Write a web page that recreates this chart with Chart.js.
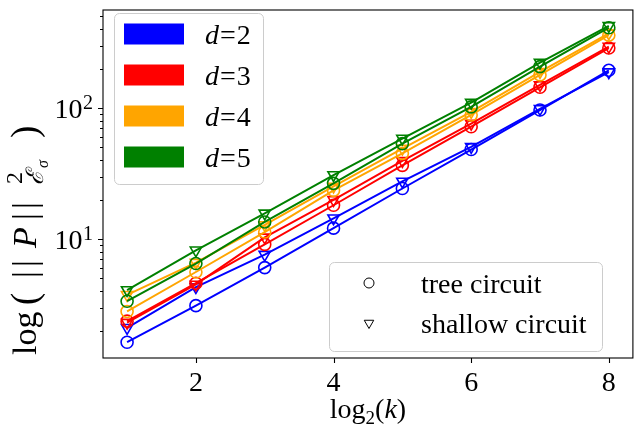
<!DOCTYPE html>
<html>
<head>
<meta charset="utf-8">
<script src="https://cdn.jsdelivr.net/npm/chart.js@4.4.1/dist/chart.umd.min.js"></script>
<style>
  html, body { margin: 0; padding: 0; background: #fff; }
</style>
</head>
<body>
<canvas id="chart" width="641" height="431"></canvas>
<script>
// x = log2(k)
const xValues = [1, 2, 3, 4, 5, 6, 7, 8];
const xTicks = [2, 4, 6, 8];
const yMajorTicks = [10, 100];
const yMajorExponents = ['1', '2'];
const yMinorTicks = [2, 3, 4, 5, 6, 7, 8, 9, 20, 30, 40, 50, 60, 70, 80, 90, 200, 300, 400, 500];

const dValues = [2, 3, 4, 5];
const dColors = ['#0000ff', '#ff0000', '#ffa500', '#008000'];

// tree circuit (circles)
const treeD2 = [1.63, 3.1, 6.05, 12.1, 24.3, 48.2, 96.5, 194];
const treeD3 = [2.36, 4.6, 9.1, 18.1, 36.5, 72, 144, 287];
const treeD4 = [2.8, 5.6, 11.3, 23.5, 45, 88.5, 179, 360];
const treeD5 = [3.35, 6.5, 13.5, 26.6, 53.5, 102, 207, 410];
// shallow circuit (triangles)
const shallowD2 = [2.1, 4.3, 7.6, 14.4, 27.5, 50.5, 98.5, 188];
const shallowD3 = [2.3, 4.5, 10.3, 19.9, 39.5, 76, 150, 294];
const shallowD4 = [3.75, 6.6, 12.8, 25.2, 49, 93.5, 189, 372];
const shallowD5 = [4.08, 8.2, 15.7, 30.8, 58.5, 110, 222, 424];

const treeSeries = [treeD2, treeD3, treeD4, treeD5];
const shallowSeries = [shallowD2, shallowD3, shallowD4, shallowD5];

const serif = '"Liberation Serif", "Times New Roman", serif';

function toPoints(arr) {
    return xValues.map((x, i) => ({x: x, y: arr[i]}));
}

let datasets = [];
dValues.forEach((d, i) => {
    datasets.push({
        label: 'tree d=' + d,
        data: toPoints(treeSeries[i]),
        borderColor: dColors[i],
        borderWidth: 2,
        pointStyle: 'circle',
        pointRadius: 6,
        pointBorderWidth: 1.6,
        pointBackgroundColor: 'rgba(0,0,0,0)',
        pointBorderColor: dColors[i],
        tension: 0,
        fill: false,
        order: 10 - 2 * i
    });
    datasets.push({
        label: 'shallow d=' + d,
        data: toPoints(shallowSeries[i]),
        borderColor: dColors[i],
        borderWidth: 2,
        pointStyle: 'triangle',
        pointRotation: 180,
        pointRadius: 6.5,
        pointBorderWidth: 1.6,
        pointBackgroundColor: 'rgba(0,0,0,0)',
        pointBorderColor: dColors[i],
        tension: 0,
        fill: false,
        order: 9 - 2 * i
    });
});

function drawRuns(ctx, runs, x0, y0) {
    let x = x0;
    runs.forEach(r => {
        ctx.font = r.font;
        ctx.fillText(r.t, x, y0 + (r.dy || 0));
        x += ctx.measureText(r.t).width + (r.gap || 0);
    });
    return x - x0;
}

function measureRuns(ctx, runs) {
    let w = 0;
    runs.forEach(r => {
        ctx.font = r.font;
        w += ctx.measureText(r.t).width + (r.gap || 0);
    });
    return w;
}

const decor = {
    id: 'decor',
    afterDraw(chart) {
        const ctx = chart.ctx;
        const a = chart.chartArea;
        const xs = chart.scales.x;
        const ys = chart.scales.y;
        ctx.save();
        ctx.strokeStyle = '#000';
        ctx.lineWidth = 1.1;
        ctx.strokeRect(a.left, a.top, a.right - a.left, a.bottom - a.top);

        // tick marks, outward
        ctx.beginPath();
        xTicks.forEach(v => {
            const px = Math.round(xs.getPixelForValue(v)) + 0.5;
            ctx.moveTo(px, a.bottom);
            ctx.lineTo(px, a.bottom + 5);
        });
        yMajorTicks.forEach(v => {
            const py = Math.round(ys.getPixelForValue(v)) + 0.5;
            ctx.moveTo(a.left - 5, py);
            ctx.lineTo(a.left, py);
        });
        yMinorTicks.forEach(v => {
            const py = Math.round(ys.getPixelForValue(v)) + 0.5;
            ctx.moveTo(a.left - 3, py);
            ctx.lineTo(a.left, py);
        });
        ctx.stroke();

        // y tick labels 10^n
        ctx.fillStyle = '#000';
        ctx.textAlign = 'left';
        ctx.textBaseline = 'alphabetic';
        yMajorTicks.forEach((v, i) => {
            const py = ys.getPixelForValue(v);
            const runs = [
                {t: '10', font: '28px ' + serif, gap: 0.5},
                {t: yMajorExponents[i], font: '20px ' + serif, dy: -9}
            ];
            const w = measureRuns(ctx, runs);
            drawRuns(ctx, runs, a.left - 10 - w, py + 9.5);
        });

        // legend for d
        ctx.fillStyle = 'rgba(255,255,255,0.8)';
        ctx.strokeStyle = '#cccccc';
        ctx.lineWidth = 1;
        ctx.beginPath();
        ctx.roundRect(114.5, 13.5, 149, 171, 5);
        ctx.fill();
        ctx.stroke();
        dValues.forEach((d, i) => {
            const yc = 34 + i * 41;
            ctx.fillStyle = dColors[i];
            ctx.fillRect(124, yc - 10.5, 60, 21);
            ctx.fillStyle = '#000';
            drawRuns(ctx, [
                {t: 'd', font: 'italic 28px ' + serif, gap: 1},
                {t: '=', font: '28px ' + serif, gap: 1},
                {t: String(d), font: '28px ' + serif}
            ], 205, yc + 9.5);
        });

        // legend for circuit type
        ctx.fillStyle = 'rgba(255,255,255,0.8)';
        ctx.strokeStyle = '#cccccc';
        ctx.beginPath();
        ctx.roundRect(329.5, 262.5, 273, 89, 5);
        ctx.fill();
        ctx.stroke();
        ctx.strokeStyle = '#000';
        Chart.helpers.drawPoint(ctx, {pointStyle: 'circle', radius: 5, borderWidth: 1.5, rotation: 0}, 369, 283);
        Chart.helpers.drawPoint(ctx, {pointStyle: 'triangle', radius: 5.5, borderWidth: 1.5, rotation: 180}, 369, 323);
        ctx.fillStyle = '#000';
        ctx.font = '28px ' + serif;
        ctx.fillText('tree circuit', 421, 293);
        ctx.fillText('shallow circuit', 421, 333);

        // x axis title: log2(k)
        const xRuns = [
            {t: 'log', font: '28px ' + serif},
            {t: '2', font: '19px ' + serif, dy: 6},
            {t: '(', font: '28px ' + serif},
            {t: 'k', font: 'italic 28px ' + serif},
            {t: ')', font: '28px ' + serif}
        ];
        const xw = measureRuns(ctx, xRuns);
        drawRuns(ctx, xRuns, (a.left + a.right) / 2 - xw / 2, 418);

        // y axis title: log(||P||^2_{E_sigma}), read from bottom upward
        const yPieces = [
            {t: 'log', font: '34px ' + serif, at: 0},
            {t: '(', font: '37px ' + serif, at: 50, dy: 1},
            {t: '|', font: '34px ' + serif, at: 77},
            {t: '|', font: '34px ' + serif, at: 88},
            {t: 'P', font: 'italic 34px ' + serif, at: 107},
            {t: '|', font: '34px ' + serif, at: 135},
            {t: '|', font: '34px ' + serif, at: 146},
            {t: '2', font: '24px ' + serif, at: 171, dy: -14},
            {t: '\u2130', font: 'italic 24px ' + serif, at: 170, dy: 7},
            {t: '\u03c3', font: 'italic 16px ' + serif, at: 187, dy: 12},
            {t: ')', font: '37px ' + serif, at: 217, dy: 1}
        ];
        ctx.save();
        ctx.translate(36, 355);
        ctx.rotate(-Math.PI / 2);
        yPieces.forEach(p => {
            ctx.font = p.font;
            ctx.fillText(p.t, p.at, p.dy || 0);
        });
        ctx.restore();

        ctx.restore();
    }
};

const chart = new Chart(document.getElementById('chart').getContext('2d'), {
    type: 'line',
    data: {datasets: datasets},
    options: {
        responsive: false,
        animation: false,
        devicePixelRatio: 1,
        layout: {padding: {top: 10, right: 2, left: 0, bottom: 0}},
        plugins: {
            legend: {display: false},
            tooltip: {enabled: false}
        },
        scales: {
            x: {
                type: 'linear',
                min: 0.65,
                max: 8.35,
                afterBuildTicks: s => { s.ticks = xTicks.map(v => ({value: v})); },
                afterFit: s => { s.height = 73; },
                grid: {display: false, drawTicks: false},
                border: {display: false},
                ticks: {
                    color: '#000',
                    font: {family: serif, size: 28},
                    padding: 9,
                    maxRotation: 0,
                    autoSkip: false
                }
            },
            y: {
                type: 'logarithmic',
                min: 1.235,
                max: 560,
                afterBuildTicks: s => {
                    s.ticks = yMinorTicks.concat(yMajorTicks).sort((p, q) => p - q).map(v => ({value: v}));
                },
                afterFit: s => { s.width = 103; },
                grid: {display: false, drawTicks: false},
                border: {display: false},
                ticks: {display: false}
            }
        }
    },
    plugins: [decor]
});
</script>
</body>
</html>
